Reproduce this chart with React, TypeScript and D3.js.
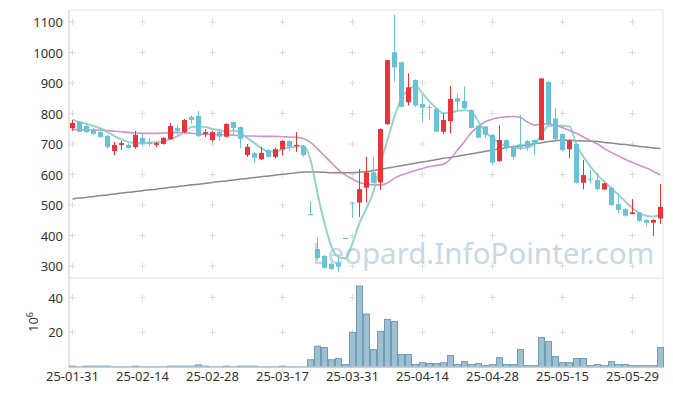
import * as d3 from 'd3'

// trading days (KRX)
const dates = [
  '2025-01-31',
  '2025-02-03', '2025-02-04', '2025-02-05', '2025-02-06', '2025-02-07', '2025-02-10', '2025-02-11', '2025-02-12', '2025-02-13', '2025-02-14',
  '2025-02-17', '2025-02-18', '2025-02-19', '2025-02-20', '2025-02-21', '2025-02-24', '2025-02-25', '2025-02-26', '2025-02-27', '2025-02-28',
  '2025-03-04', '2025-03-05', '2025-03-06', '2025-03-07', '2025-03-10', '2025-03-11', '2025-03-12', '2025-03-13', '2025-03-14', '2025-03-17',
  '2025-03-18', '2025-03-19', '2025-03-20', '2025-03-21', '2025-03-24', '2025-03-25', '2025-03-26', '2025-03-27', '2025-03-28', '2025-03-31',
  '2025-04-01', '2025-04-02', '2025-04-03', '2025-04-04', '2025-04-07', '2025-04-08', '2025-04-09', '2025-04-10', '2025-04-11', '2025-04-14',
  '2025-04-15', '2025-04-16', '2025-04-17', '2025-04-18', '2025-04-21', '2025-04-22', '2025-04-23', '2025-04-24', '2025-04-25', '2025-04-28',
  '2025-04-29', '2025-04-30', '2025-05-02', '2025-05-07', '2025-05-08', '2025-05-09', '2025-05-12', '2025-05-13', '2025-05-14', '2025-05-15',
  '2025-05-16', '2025-05-19', '2025-05-20', '2025-05-21', '2025-05-22', '2025-05-23', '2025-05-26', '2025-05-27', '2025-05-28', '2025-05-29',
  '2025-05-30', '2025-06-02', '2025-06-04', '2025-06-05',
]

const opens = [
  752, 772, 759, 746, 739, 726, 677, 697, 697, 690,
  720, 707, 697, 700, 716, 752, 739, 789, 792, 733,
  713, 740, 724, 772, 756, 664, 670, 650, 680, 658,
  683, 710, 693, 694, 470, 356, 333, 307, 311, 392,
  508, 508, 557, 607, 574, 765, 1001, 968, 837, 910,
  831, 821, 815, 740, 775, 850, 841, 811, 759, 757,
  730, 644, 713, 689, 699, 710, 713, 713, 904, 784,
  733, 683, 700, 573, 586, 582, 551, 557, 503, 487,
  470, 476, 451, 442, 456,
]
const highs = [
  779, 775, 769, 752, 752, 730, 707, 710, 703, 743,
  733, 720, 707, 723, 769, 762, 782, 792, 808, 749,
  743, 746, 768, 773, 757, 700, 675, 691, 683, 688,
  713, 713, 739, 697, 510, 393, 336, 311, 327, 392,
  508, 618, 658, 658, 751, 975, 1123, 970, 932, 912,
  861, 830, 819, 801, 890, 866, 888, 814, 762, 759,
  732, 762, 715, 697, 795, 713, 715, 915, 906, 817,
  735, 715, 702, 648, 615, 604, 573, 560, 538, 489,
  519, 478, 453, 453, 569,
]
const lows = [
  743, 739, 736, 730, 720, 684, 664, 680, 685, 684,
  697, 693, 690, 698, 713, 730, 736, 766, 723, 723,
  707, 711, 722, 733, 687, 658, 638, 648, 656, 653,
  662, 678, 674, 658, 467, 320, 292, 289, 279, 390,
  457, 461, 508, 571, 549, 763, 904, 820, 826, 822,
  771, 779, 740, 733, 735, 811, 815, 751, 719, 719,
  631, 642, 678, 648, 680, 678, 664, 711, 762, 713,
  675, 653, 571, 551, 571, 549, 549, 498, 473, 462,
  470, 445, 429, 398, 438,
]
const closes = [
  769, 740, 739, 733, 723, 690, 697, 703, 687, 730,
  703, 700, 703, 720, 759, 743, 779, 779, 726, 739,
  739, 724, 766, 753, 717, 691, 655, 671, 658, 683,
  710, 691, 697, 664, 469, 326, 294, 290, 298, 391,
  507, 552, 607, 573, 749, 975, 951, 822, 886, 826,
  819, 820, 740, 779, 848, 839, 817, 753, 721, 730,
  639, 713, 688, 658, 689, 689, 704, 915, 766, 716,
  680, 711, 573, 598, 584, 552, 571, 500, 484, 465,
  476, 448, 442, 451, 494,
]
// volume, 10^6 shares
const volumes = [
  0.5, 0.1, 0.5, 0.5, 0.5, 0.5, 0.1, 0.1, 0.1, 0.5,
  0.1, 0.1, 0.1, 0.1, 0.5, 0.5, 0.5, 0.5, 1.2, 0.5,
  0.1, 0.1, 0.5, 0.1, 0.5, 0.5, 0.5, 0.1, 0.1, 0.1,
  0.5, 0.1, 0.1, 0.1, 4.2, 12.0, 11.2, 4.2, 4.9, 1.4,
  19.9, 46.6, 30.5, 10.0, 20.5, 27.4, 26.2, 7.2, 7.2, 1.4,
  2.5, 2.0, 2.0, 2.5, 6.6, 1.4, 3.1, 1.4, 2.0, 0.8,
  1.4, 5.4, 1.4, 1.4, 10.0, 0.8, 0.8, 17.0, 14.7, 6.0,
  2.5, 2.5, 4.9, 4.9, 0.8, 1.4, 0.8, 3.1, 1.4, 1.4,
  0.8, 0.8, 0.8, 0.8, 11.2,
]
const ma5 = [
  779, 772, 766, 759, 751, 739, 726, 715, 707, 703,
  702, 703, 706, 708, 716, 726, 739, 756, 757, 756,
  749, 746, 740, 744, 737, 719, 703, 686, 675, 675,
  683, 689, 691, 693, 648, 538, 441, 363, 330, 325,
  375, 441, 490, 544, 637, 713, 790, 850, 877, 890,
  866, 839, 817, 801, 803, 808, 811, 806, 773, 740,
  719, 704, 693, 689, 686, 689, 700, 730, 760, 760,
  760, 757, 697, 658, 626, 598, 576, 554, 533, 511,
  489, 472, 465, 462, 467,
]
const ma20 = [
  748, 747, 747, 746, 746, 744, 742, 740, 738, 736,
  735, 735, 735, 736, 737, 738, 737, 735, 733, 732,
  731, 731, 730, 729, 727, 726, 726, 725, 725, 725,
  724, 723, 722, 718, 705, 684, 661, 638, 615, 598,
  585, 574, 569, 566, 566, 572, 588, 598, 606, 613,
  620, 626, 630, 634, 651, 680, 708, 738, 759, 774,
  782, 787, 789, 790, 787, 772, 762, 766, 766, 761,
  754, 744, 735, 723, 711, 700, 685, 672, 661, 649,
  639, 630, 621, 610, 598,
]
const ma120 = [
  520, 523, 525, 528, 531, 533, 536, 539, 542, 544,
  547, 550, 552, 555, 558, 560, 563, 566, 568, 571,
  574, 577, 579, 582, 585, 587, 590, 593, 595, 598,
  601, 603, 606, 608, 608, 608, 607, 606, 606, 606,
  606, 607, 610, 613, 617, 621, 625, 629, 633, 637,
  641, 645, 649, 653, 656, 660, 664, 668, 672, 676,
  680, 684, 688, 691, 694, 697, 701, 704, 708, 711,
  713, 712, 711, 710, 709, 708, 705, 703, 700, 698,
  695, 692, 690, 687, 685,
]
const priceTicks = [300, 400, 500, 600, 700, 800, 900, 1000, 1100]
const volTicks = [20, 40]
const dateTicks = ['2025-01-31', '2025-02-14', '2025-02-28', '2025-03-17', '2025-03-31', '2025-04-14', '2025-04-28', '2025-05-15', '2025-05-29']

const UP = '#ea3439'
const DOWN = '#6ac2d8'
const FONT = '"Noto Sans", sans-serif'

export default function App() {
  const left = 69
  const right = 663
  const priceTop = 10
  const priceBottom = 278
  const volBottom = 367

  const x = d3.scaleBand<string>().domain(dates).range([left, left + 7 * dates.length])
  const cx = (i: number) => (x(dates[i]) || 0) + x.bandwidth() / 2
  const y = d3.scaleLinear().domain([300, 1100]).range([266, 22])
  const yv = d3.scaleLinear().domain([0, 40]).range([volBottom, 297.5])

  const maLine = (vals: number[]) =>
    d3.line<number>()
      .x((_, i) => cx(i))
      .y(d => y(d))
      .curve(d3.curveMonotoneX)(vals) || ''

  const cross = (px: number, py: number, key: string) => (
    <g key={key} stroke="#dcdcdc" strokeWidth={1}>
      <line x1={px - 3} x2={px + 3} y1={py} y2={py} />
      <line x1={px} x2={px} y1={py - 3} y2={py + 3} />
    </g>
  )

  const bodyW = 5

  return (
    <svg width={673} height={396} style={{ position: 'absolute', left: 0, top: 0, background: '#fff' }}>
      {/* frame */}
      <rect x={left} y={priceTop} width={right - left} height={volBottom - priceTop} fill="none" stroke="#e6e6e6" />
      <line x1={left} x2={right} y1={priceBottom} y2={priceBottom} stroke="#e2e2e2" />
      <line x1={left} x2={left} y1={priceTop} y2={volBottom} stroke="#d8d8d8" />

      {/* grid crosses */}
      {dateTicks.map(d => priceTicks.map(t => cross(cx(dates.indexOf(d)), y(t), `p${d}${t}`)))}
      {dateTicks.map(d => volTicks.map(t => cross(cx(dates.indexOf(d)), yv(t), `v${d}${t}`)))}

      {/* watermark */}
      <text x={312} y={264} fontFamily={FONT} fontSize={29.5} fill="#c6d9e5">
        Leopard.InfoPointer.com
      </text>

      {/* moving averages */}
      <path d={maLine(ma120)} fill="none" stroke="#8a8a8a" strokeWidth={1.5} />
      <path d={maLine(ma20)} fill="none" stroke="#c77fc1" strokeWidth={1.6} opacity={0.85} />
      <path d={maLine(ma5)} fill="none" stroke="#86cbbf" strokeWidth={2} opacity={0.85} />

      {/* candles */}
      {dates.map((d, i) => {
        const up = closes[i] >= opens[i]
        const color = up ? UP : DOWN
        const top = y(Math.max(opens[i], closes[i]))
        const bot = y(Math.min(opens[i], closes[i]))
        return (
          <g key={d}>
            <line x1={cx(i)} x2={cx(i)} y1={y(highs[i])} y2={y(lows[i])} stroke={color} strokeWidth={1} />
            <rect x={cx(i) - bodyW / 2} y={top} width={bodyW} height={Math.max(1, bot - top)} fill={color} />
          </g>
        )
      })}

      {/* volume */}
      {dates.map((d, i) => (
        <rect key={`vol${d}`} x={(x(d) || 0) + 0.5} y={yv(volumes[i])} width={x.bandwidth() - 1}
          height={volBottom - yv(volumes[i])} fill="#9cc0d2" stroke="#6f9fb7" strokeWidth={1} />
      ))}
      <line x1={left} x2={right} y1={volBottom} y2={volBottom} stroke="#d8d8d8" />

      {/* price axis labels */}
      {priceTicks.map(t => (
        <text key={`pl${t}`} x={63} y={y(t) + 5} textAnchor="end" fontFamily={FONT} fontSize={13} fill="#333">{t}</text>
      ))}
      {volTicks.map(t => (
        <text key={`vl${t}`} x={63} y={yv(t) + 5} textAnchor="end" fontFamily={FONT} fontSize={13} fill="#333">{t}</text>
      ))}
      <text transform="translate(38,332) rotate(-90)" fontFamily={FONT} fontSize={13} fill="#333">
        10<tspan dy={-5} fontSize={9}>6</tspan>
      </text>

      {/* date labels */}
      {dateTicks.map(d => (
        <text key={`dl${d}`} x={cx(dates.indexOf(d))} y={381} textAnchor="middle" fontFamily={FONT} fontSize={13} fill="#333">
          {d.slice(2)}
        </text>
      ))}
    </svg>
  )
}
